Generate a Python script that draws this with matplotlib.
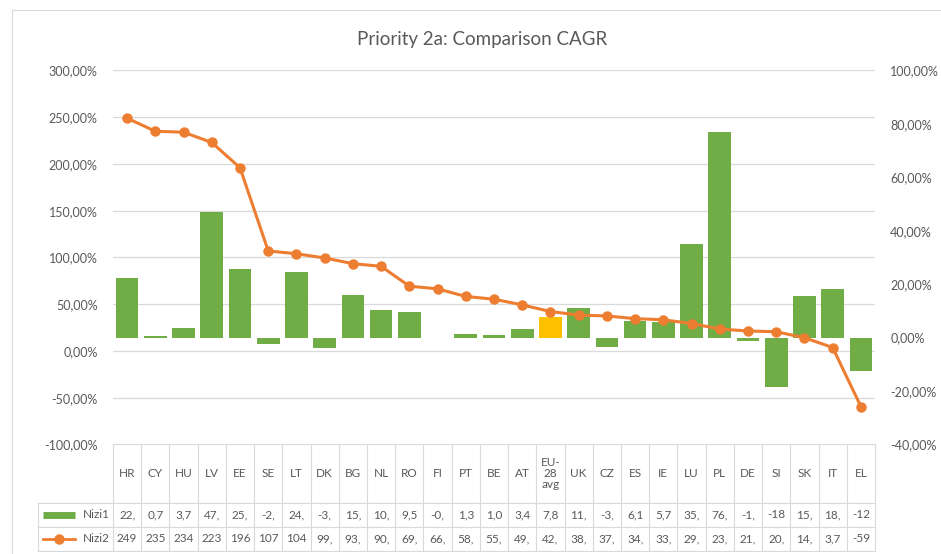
import matplotlib
matplotlib.use("Agg")
import matplotlib.pyplot as plt
from matplotlib.patches import Rectangle
from matplotlib.transforms import blended_transform_factory
from matplotlib.ticker import FuncFormatter

plt.rcParams["font.family"] = ["Lato", "DejaVu Sans"]

countries = ["HR", "CY", "HU", "LV", "EE", "SE", "LT", "DK", "BG", "NL", "RO",
             "FI", "PT", "BE", "AT", "EU-28 avg", "UK", "CZ", "ES", "IE", "LU",
             "PL", "DE", "SI", "SK", "IT", "EL"]
nizi1 = [22.2, 0.7, 3.7, 47.2, 25.6, -2.5, 24.7, -3.7, 15.9, 10.4, 9.5,
         -0.3, 1.3, 1.0, 3.4, 7.8, 11.0, -3.4, 6.1, 5.7, 35.1,
         76.8, -1.1, -18.3, 15.6, 18.1, -12.5]
nizi2 = [249.0, 235.0, 234.0, 223.0, 196.0, 107.0, 104.0, 99.5, 93.4, 90.6, 69.3,
         66.5, 58.3, 55.4, 49.3, 42.2, 38.4, 37.5, 34.6, 33.4, 29.4,
         23.5, 21.4, 20.6, 14.2, 3.7, -59.4]
left_ticks = [-100, -50, 0, 50, 100, 150, 200, 250, 300]
right_ticks = [-40, -20, 0, 20, 40, 60, 80, 100]

GREEN = "#70AD47"
ORANGE = "#ED7D31"
GOLD = "#FFC000"
GRID = "#D9D9D9"
TEXT = "#595959"

W, H = 941, 554
PL, PR, PT, PB = 113, 875, 70.5, 444.5


def pct(v, _pos=None):
    return f"{v:.2f}".replace(".", ",") + "%"


def cell(v):
    # Excel clips the numbers to the narrow column width
    return f"{v:.1f}".replace(".", ",")[:3]


fig = plt.figure(figsize=(W / 100, H / 100), dpi=100)
fig.patches.append(Rectangle((12 / W, -0.1), 2, (H - 10) / H + 0.1,
                             transform=fig.transFigure, fill=False,
                             edgecolor=GRID, linewidth=0.8))

ax = fig.add_axes([PL / W, 1 - PB / H, (PR - PL) / W, (PB - PT) / H])
ax2 = ax.twinx()
ax.set_zorder(2)
ax.patch.set_visible(False)

x = list(range(len(countries)))
colors = [GOLD if c == "EU-28 avg" else GREEN for c in countries]
ax2.bar(x, nizi1, width=0.8, color=colors, zorder=2)

trans = blended_transform_factory(ax2.transAxes, ax.transData)
for t in left_ticks:
    ax2.plot([0, 1], [t, t], color=GRID, linewidth=0.9, transform=trans, zorder=0)

ax.plot(x, nizi2, color=ORANGE, linewidth=2.2, marker="o", markersize=6.5)

ax.set_xlim(-0.5, len(countries) - 0.5)
ax.set_ylim(-100, 300)
ax2.set_ylim(-40, 100)
ax.set_yticks(left_ticks)
ax2.set_yticks(right_ticks)
ax.yaxis.set_major_formatter(FuncFormatter(pct))
ax2.yaxis.set_major_formatter(FuncFormatter(pct))
ax.set_xticks([])
for a in (ax, ax2):
    for s in a.spines.values():
        s.set_visible(False)
    a.tick_params(axis="y", length=0, pad=11, labelsize=9, labelcolor=TEXT)

fig.text(482 / W, 1 - 40 / H, "Priority 2a: Comparison CAGR", ha="center",
         va="center", fontsize=13.5, color=TEXT)

# data table under the plot
TT, TB = 444, 551
head_h, row_h = 59, 24
tab = fig.add_axes([PL / W, 1 - TB / H, (PR - PL) / W, (TB - TT) / H])
tab.set_xlim(-0.5, len(countries) - 0.5)
tab.set_ylim(TB - TT, 0)
tab.axis("off")
cw = (PR - PL) / len(countries)
leg_left = -0.5 - (PL - 38) / cw
r1, r2, r3 = head_h, head_h + row_h, head_h + 2 * row_h

lk = dict(color=GRID, linewidth=0.8, clip_on=False)
tab.plot([-0.5, len(countries) - 0.5], [0, 0], **lk)
for y in (r1, r2, r3):
    tab.plot([leg_left, len(countries) - 0.5], [y, y], **lk)
for i in range(len(countries) + 1):
    tab.plot([i - 0.5, i - 0.5], [0, r3], **lk)
tab.plot([leg_left, leg_left], [r1, r3], **lk)

fs = 8.5
for i, c in enumerate(countries):
    label = "EU-\n28\navg" if c == "EU-28 avg" else c
    tab.text(i, head_h / 2, label, ha="center", va="center", fontsize=fs,
             color=TEXT, linespacing=1.0)
    tab.text(i, (r1 + r2) / 2, cell(nizi1[i]), ha="center", va="center",
             fontsize=fs, color=TEXT)
    tab.text(i, (r2 + r3) / 2, cell(nizi2[i]), ha="center", va="center",
             fontsize=fs, color=TEXT)

k0 = leg_left + 5 / cw
k1 = leg_left + 37 / cw
tab.plot([k0, k1], [(r1 + r2) / 2] * 2, color=GREEN, linewidth=5,
         solid_capstyle="butt", clip_on=False)
tab.plot([k0, k1], [(r2 + r3) / 2] * 2, color=ORANGE, linewidth=2,
         clip_on=False)
tab.plot([(k0 + k1) / 2], [(r2 + r3) / 2], color=ORANGE, marker="o",
         markersize=6.5, clip_on=False)
for y, name in (((r1 + r2) / 2, "Nizi1"), ((r2 + r3) / 2, "Nizi2")):
    tab.text(-0.5 - 3 / cw, y, name, ha="right", va="center", fontsize=fs,
             color=TEXT)

fig.savefig("out.png", dpi=100)
